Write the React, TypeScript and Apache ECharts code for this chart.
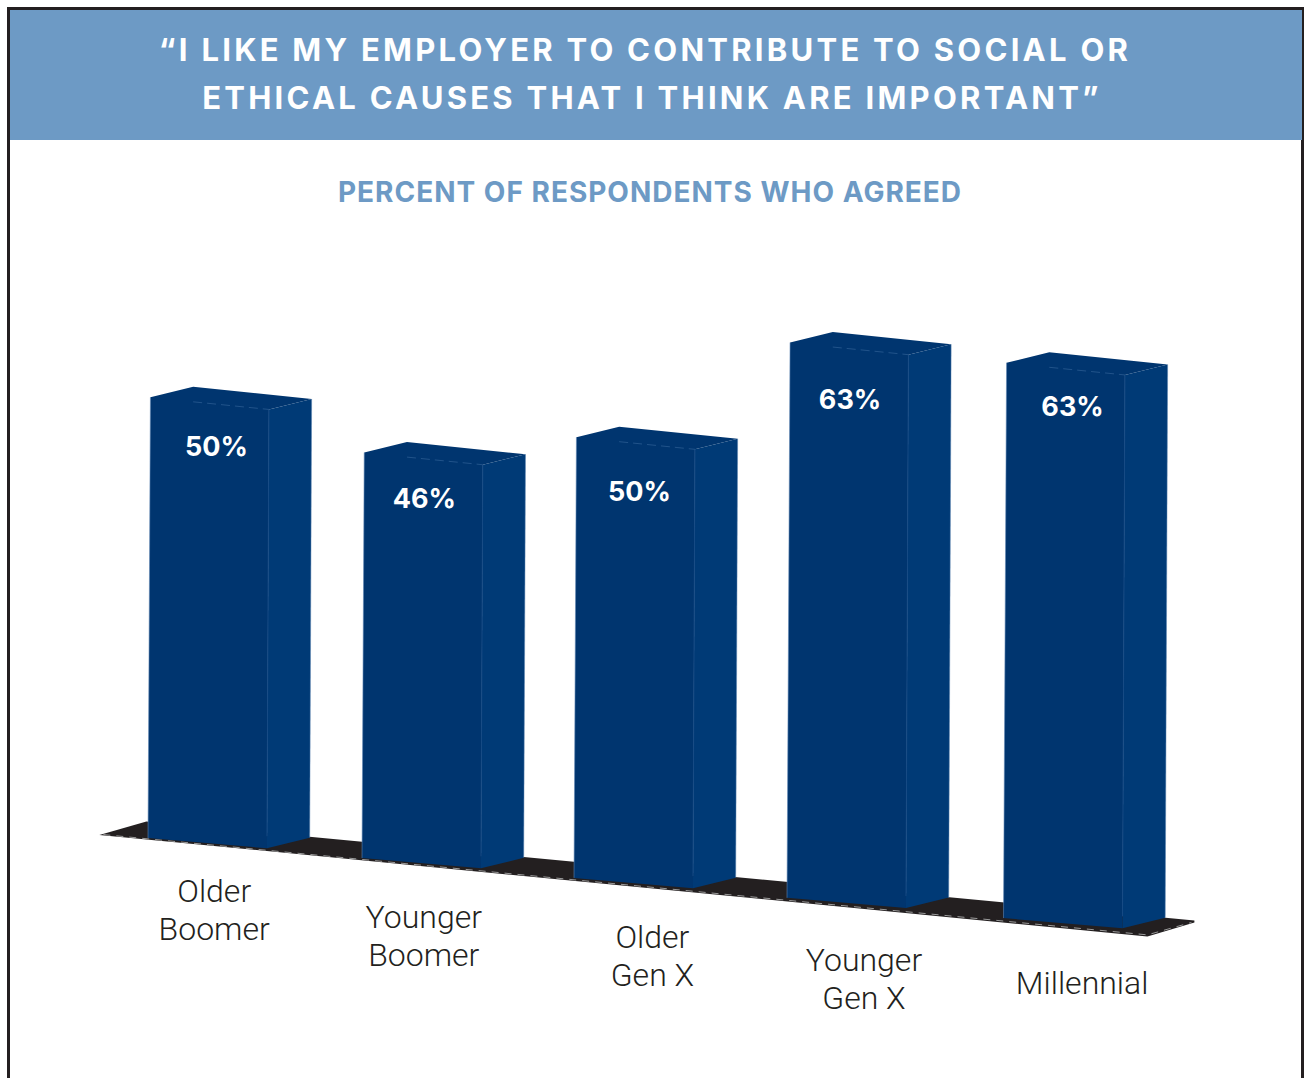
import React, { useEffect, useRef } from "react";
import * as echarts from "echarts";

const CATEGORIES = ["Older\nBoomer", "Younger\nBoomer", "Older\nGen X", "Younger\nGen X", "Millennial"];
const AGREED_PERCENT = [50, 46, 50, 63, 63];
const HEADLINE_TOP = "\u201CI LIKE MY EMPLOYER TO CONTRIBUTE TO SOCIAL OR";
const HEADLINE_BOTTOM = "ETHICAL CAUSES THAT I THINK ARE IMPORTANT\u201D";
const SUBHEAD = "PERCENT OF RESPONDENTS WHO AGREED";

// Fine placement around each block, in pixels.
const BLOCK_NUDGE = [0.3, 0.7, -0.9, -1.5, 1.4];
const VALUE_NUDGE = [[66, 49], [60, 46], [63, 54], [60, 57], [66, 44]];
const NAME_NUDGE = [[7, 67], [3, 73], [18, 73], [16, 76], [20.5, 60]];

const BLUE = "#6d9ac5";
const FRONT = "#00356f";
const SIDE = "#003a76";
const INK = "#231f20";

// Perspective of the pseudo-3D floor and blocks.
const BASE_SLOPE = 0.0936;
const FRONT_WIDTH = 0.557; // share of a category band
const DEPTH_X = 0.2; // share of a category band
const DEPTH_Y = -10.5;

const renderFloor = (_params: any, api: any) => {
  const first = api.coord([0, 0]);
  const last = api.coord([CATEGORIES.length - 1, 0]);
  const band = api.size([1, 0])[0];
  const x0 = first[0] - band / 2 - 1;
  const x1 = last[0] + band / 2 - 21;
  const slope = 0.0955;
  const yAt = (x: number) => first[1] + slope * (x - (first[0] - (band * FRONT_WIDTH) / 2));
  const y0 = yAt(x0);
  const y1 = yAt(x1);
  return {
    type: "group",
    children: [
      {
        type: "polygon",
        shape: {
          points: [
            [x0, y0 + 1.5],
            [x0 + 47, y0 - 12],
            [x1 + 47, y1 - 13],
            [x1 + 47, y1 - 11],
            [x1, y1 + 3],
          ],
        },
        style: { fill: INK },
      },
      {
        type: "polyline",
        shape: { points: [[x0 + 4, y0 + 1.2], [x1, y1 + 1.4], [x1 + 44, y1 - 11]] },
        style: { fill: "none", stroke: "#9a9a9a", lineWidth: 1, lineDash: [7, 6] },
      },
    ],
  };
};

const renderBlock = (params: any, api: any) => {
  const i = params.dataIndex;
  const value = api.value(1);
  const centre = api.coord([i, 0]);
  const zero = centre[1];
  const band = api.size([1, 0])[0];
  const height = zero - api.coord([i, value])[1];
  const w = band * FRONT_WIDTH;
  const dx = band * DEPTH_X;
  const lean = height * 0.0055;
  const xl = centre[0] - w / 2 + BLOCK_NUDGE[i];
  const firstLeft = api.coord([0, 0])[0] - w / 2;
  const base = zero + BASE_SLOPE * (xl - firstLeft);

  const bl = [xl, base];
  const br = [xl + w, base + w * 0.086];
  const tl = [xl + lean, base - height];
  const tr = [xl + w + lean * 0.8, base - height + w * 0.102];
  const sb = [br[0] + dx, br[1] + DEPTH_Y];
  const st = [tr[0] + dx, tr[1] + DEPTH_Y];
  const back = [tl[0] + dx, tl[1] + DEPTH_Y];
  const innerBack = [back[0], back[1] + 15];

  const [vx, vy] = VALUE_NUDGE[i];
  const [nx, ny] = NAME_NUDGE[i];
  const nameY = base + w * 0.043 + ny;

  return {
    type: "group",
    children: [
      // Front and top share one colour, so they are one outline with no seam.
      { type: "polygon", shape: { points: [bl, br, tr, st, back, tl] }, style: { fill: FRONT } },
      { type: "polygon", shape: { points: [br, sb, st, tr] }, style: { fill: SIDE } },
      { type: "line", shape: { x1: bl[0], y1: bl[1], x2: tl[0], y2: tl[1] }, style: { stroke: "#5f86b3", lineWidth: 0.6 } },
      { type: "line", shape: { x1: sb[0], y1: sb[1], x2: st[0], y2: st[1] }, style: { stroke: "#5f86b3", lineWidth: 0.5 } },
      { type: "line", shape: { x1: tr[0], y1: tr[1], x2: br[0], y2: br[1] - 12 }, style: { stroke: "#164a84", lineWidth: 1 } },
      {
        type: "line",
        shape: { x1: innerBack[0], y1: innerBack[1], x2: tr[0], y2: tr[1] },
        style: { stroke: "#2a5a90", lineWidth: 0.8, lineDash: [9, 5] },
      },
      {
        type: "text",
        style: {
          text: `${value}%`,
          x: tl[0] + vx,
          y: tl[1] + vy,
          align: "center",
          verticalAlign: "middle",
          font: "700 27px Inter",
          fill: "#ffffff",
        },
      },
      {
        type: "text",
        style: {
          text: CATEGORIES[i],
          x: centre[0] + nx,
          y: nameY,
          align: "center",
          verticalAlign: "middle",
          font: "300 32px Roboto",
          lineHeight: 38,
          fill: INK,
        },
      },
    ],
  };
};

const headlineStyle = { color: "#ffffff", fontFamily: "Inter", fontWeight: 700, fontSize: 31, lineHeight: 48 };

const option: any = {
  animation: false,
  backgroundColor: "#ffffff",
  grid: { left: 100.4, top: 221, width: 1068, height: 617 },
  xAxis: { type: "category", data: CATEGORIES, show: false },
  yAxis: { type: "value", min: 0, max: 70, show: false },
  title: [
    { text: HEADLINE_TOP, left: 645, top: 25, textAlign: "center", padding: 0, textStyle: headlineStyle },
    { text: HEADLINE_BOTTOM, left: 652, top: 73, textAlign: "center", padding: 0, textStyle: headlineStyle },
    {
      text: SUBHEAD,
      left: 650,
      top: 175,
      textAlign: "center",
      padding: 0,
      textStyle: { color: BLUE, fontFamily: "Inter", fontWeight: 700, fontSize: 28, lineHeight: 34 },
    },
  ],
  graphic: [
    { type: "rect", z: -2, shape: { x: 8.5, y: 8.5, width: 1294, height: 1080 }, style: { fill: "#ffffff", stroke: INK, lineWidth: 3 } },
    { type: "rect", z: -1, shape: { x: 10, y: 10, width: 1292, height: 130 }, style: { fill: BLUE } },
  ],
  series: [
    { type: "custom", silent: true, renderItem: renderFloor, data: [[0, 0]], encode: { x: 0, y: 1 }, z: 1 },
    {
      type: "custom",
      silent: true,
      renderItem: renderBlock,
      data: AGREED_PERCENT.map((v, i) => [i, v]),
      encode: { x: 0, y: 1 },
      clip: false,
      z: 2,
    },
  ],
};

export default function App() {
  const ref = useRef<HTMLDivElement>(null);
  useEffect(() => {
    const chart = echarts.init(ref.current!, undefined, { renderer: "svg" });
    chart.setOption(option);
    // The headings are widely tracked, which the text style has no setting for.
    const track = () => {
      ref.current?.querySelectorAll("text").forEach((t) => {
        const s = t.textContent || "";
        if (s === HEADLINE_TOP || s === HEADLINE_BOTTOM) t.style.letterSpacing = "3.25px";
        if (s === SUBHEAD) t.style.letterSpacing = "1px";
      });
    };
    track();
    chart.on("finished", track);
    return () => chart.dispose();
  }, []);
  return <div ref={ref} style={{ position: "absolute", left: 0, top: 0, width: 1304, height: 1078 }} />;
}
